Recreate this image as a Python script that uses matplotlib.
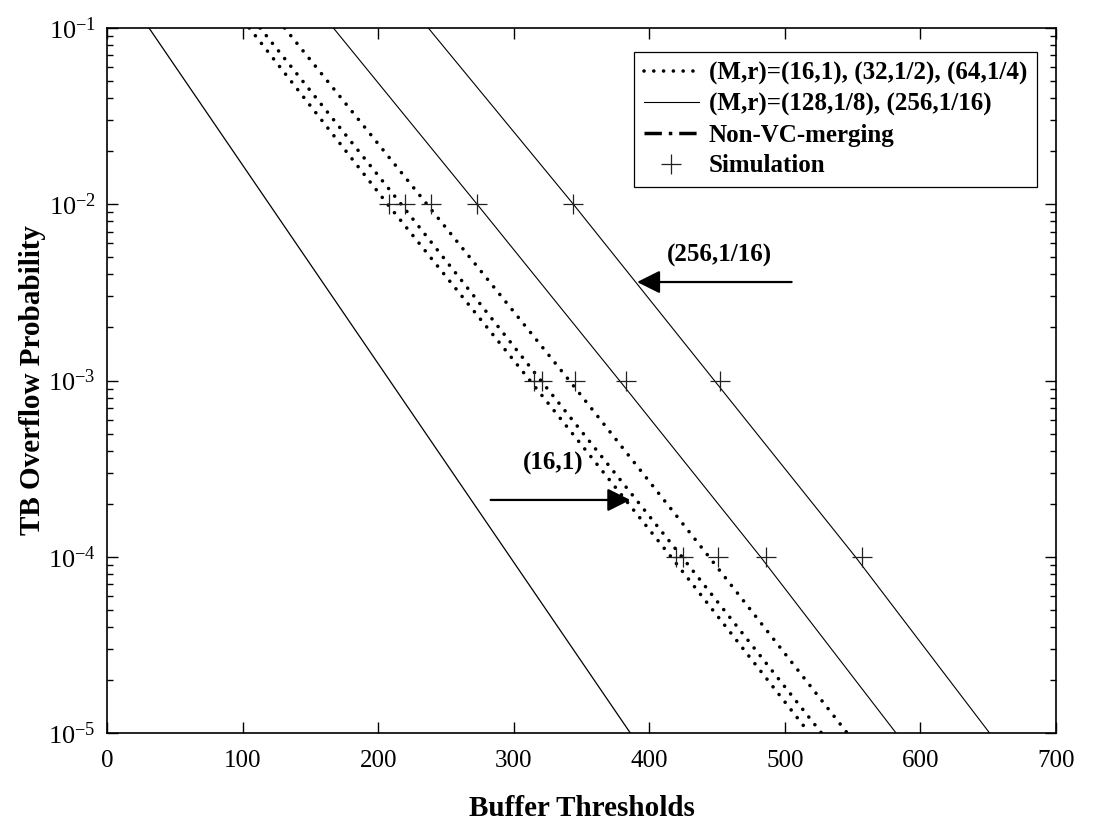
import numpy as np
import matplotlib
matplotlib.use("Agg")
import matplotlib.pyplot as plt
from matplotlib.lines import Line2D
from matplotlib.ticker import FixedLocator, LogLocator, NullFormatter, FuncFormatter

plt.rcParams['font.family'] = ['Liberation Serif', 'DejaVu Serif']
plt.rcParams['mathtext.fontset'] = 'custom'
plt.rcParams['mathtext.rm'] = 'Liberation Serif'

# overflow probability levels where curves were read
prob = [1e-1, 1e-2, 1e-3, 1e-4, 1e-5]

# buffer thresholds for each (M,r) curve at the probability levels above
x_16 = [105, 207, 312, 416, 518]
x_32 = [113, 217, 320, 424, 527]
x_64 = [131, 236, 341, 444, 546]
x_128 = [167, 273, 378, 482, 582]
x_256 = [237, 344, 448, 552, 651]

# non-VC-merging curve (straight on log scale)
prob_nonvc = [1e-1, 1e-5]
x_nonvc = [31, 386]

# simulation points
sim_prob = [1e-2] * 5 + [1e-3] * 5 + [1e-4] * 5
sim_x = [208, 220, 239, 273, 344,
         315, 321, 345, 383, 452,
         420, 425, 451, 486, 557]

legend_labels = ['(M,r)=(16,1), (32,1/2), (64,1/4)',
                 '(M,r)=(128,1/8), (256,1/16)',
                 'Non-VC-merging',
                 'Simulation']

fig = plt.figure(figsize=(10.96, 8.27), dpi=100)
ax = fig.add_axes([107/1096, 1-733/827, 949/1096, 705/827])

dot = (0, (0.01, 2.7))
for xs in (x_16, x_32, x_64):
    ax.plot(xs, prob, color='k', lw=2.6, linestyle=dot, dash_capstyle='round')
for xs in (x_128, x_256):
    ax.plot(xs, prob, color='k', lw=0.8)
ax.plot(x_nonvc, prob_nonvc, color='k', lw=0.9)
ax.plot(sim_x, sim_prob, ls='none', marker='+', ms=14, mew=0.9, color='#222222')

ax.set_yscale('log')
ax.set_xlim(0, 700)
ax.set_ylim(1e-5, 1e-1)
ax.xaxis.set_major_locator(FixedLocator(np.arange(0, 701, 100)))
ax.yaxis.set_major_locator(LogLocator(base=10, numticks=10))
ax.yaxis.set_minor_locator(LogLocator(base=10, subs=np.arange(2, 10), numticks=10))
ax.yaxis.set_minor_formatter(NullFormatter())
ax.yaxis.set_major_formatter(FuncFormatter(
    lambda v, p: r'$\mathregular{10^{%d}}$' % int(round(np.log10(v)))))

ax.tick_params(which='both', direction='in', top=True, right=True, width=1)
ax.tick_params(which='major', length=8)
ax.tick_params(which='minor', length=4)
ax.tick_params(axis='x', pad=12, labelsize=18)
ax.tick_params(axis='y', pad=8, labelsize=19)
for s in ax.spines.values():
    s.set_linewidth(1.2)

ax.set_xlabel('Buffer Thresholds', fontsize=21, fontweight='bold')
ax.xaxis.set_label_coords(0.5, -0.088)
ax.set_ylabel('TB Overflow Probability', fontsize=21, fontweight='bold', va='center')
ax.yaxis.set_label_coords(-0.078, 0.5)

arw = dict(arrowstyle='-|>,head_length=1.0,head_width=0.5', mutation_scale=14,
           color='k', lw=1.6, shrinkA=0, shrinkB=0)
ax.annotate('', xy=(386, 2.1e-4), xytext=(283, 2.1e-4), arrowprops=arw)
ax.text(329, 2.9e-4, '(16,1)', fontsize=18, fontweight='bold', ha='center', va='bottom')
ax.annotate('', xy=(391, 3.62e-3), xytext=(505, 3.62e-3), arrowprops=arw)
ax.text(452, 4.4e-3, '(256,1/16)', fontsize=18, fontweight='bold', ha='center', va='bottom')

handles = [Line2D([], [], color='k', lw=2.6, linestyle=dot, dash_capstyle='round'),
           Line2D([], [], color='k', lw=0.8),
           Line2D([], [], color='k', lw=2.5, linestyle=(0, (5, 2, 1, 2))),
           Line2D([], [], color='#222222', ls='none', marker='+', ms=14, mew=0.9)]
leg = ax.legend(handles, legend_labels, loc='upper right',
                bbox_to_anchor=((1037-107)/949, (733-52)/705),
                prop={'size': 18, 'weight': 'bold'}, fancybox=False,
                edgecolor='k', framealpha=1, labelspacing=0.3,
                handlelength=2.2, handletextpad=0.4, borderaxespad=0,
                borderpad=0.4)
leg.get_frame().set_linewidth(0.9)

fig.savefig('out.png', dpi=100)
